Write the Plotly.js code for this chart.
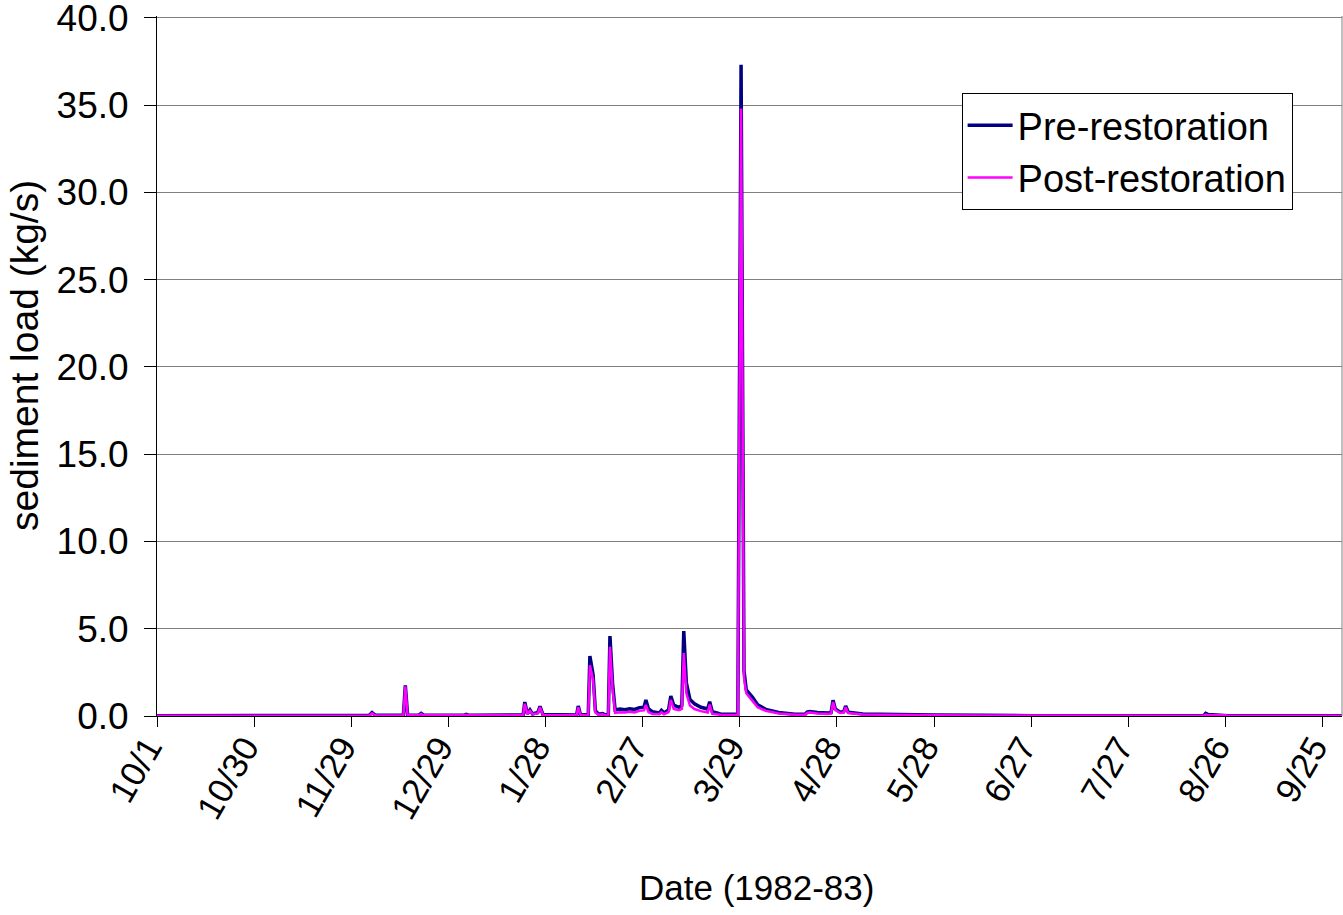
<!DOCTYPE html>
<html>
<head>
<meta charset="utf-8">
<script src="https://cdn.plot.ly/plotly-3.0.1.min.js"></script>
<style>html,body{margin:0;padding:0;background:#fff}#chart{width:1343px;height:915px}</style>
</head>
<body>
<div id="chart"></div>
<script>
// x-axis tick labels (one every 30 records of the daily series)
const tickLabels = ['10/1','10/30','11/29','12/29','1/28','2/27','3/29','4/28','5/28','6/27','7/27','8/26','9/25'];
const tickIndex  = [0,30,60,90,120,150,180,210,240,270,300,330,360];
const yTicks = [0,5,10,15,20,25,30,35,40];

// record index (days from 10/1) of the points
const dayIndex = [0,58.5,59.3,60,65.5,66.4,67.5,76.1,76.7,77.4,81,81.6,82.4,95,95.5,96.2,
  113.1,113.6,114.4,115.2,116,117.6,118.3,119.2,129.6,130.1,130.8,133.2,133.7,134.7,135.4,136.4,
  137.6,138.5,139.4,139.9,140.7,141.5,143,144.5,146,147.5,149,150.4,151,151.8,153,155.2,155.8,
  156.6,158,158.7,159.6,161.2,162.1,162.7,163.5,164.6,166,168,170.1,170.7,171.5,174,179.4,180.4,
  181.3,182,183,184,185.5,188,192,197,200.2,200.8,201.6,204,207.4,208.2,208.8,209.5,211,212.1,
  212.7,213.5,218,225,240,255,270,323.3,323.9,324.6,330,330.8,366];

// sediment load (kg/s)
const preRestoration = [0.02,0.02,0.06,0.02,0.03,0.2,0.04,0.04,1.75,0.05,0.06,0.15,0.05,0.05,0.09,0.05,
  0.06,0.8,0.12,0.35,0.12,0.2,0.55,0.08,0.06,0.57,0.06,0.08,3.44,2.35,0.3,0.1,
  0.14,0.07,0.08,4.58,1.87,0.35,0.4,0.36,0.42,0.38,0.48,0.5,0.92,0.4,0.25,0.18,0.32,
  0.18,0.35,1.15,0.62,0.5,0.6,4.87,1.9,0.95,0.7,0.5,0.4,0.82,0.25,0.12,0.1,37.3,
  2.6,1.5,1.3,1.05,0.65,0.38,0.2,0.1,0.1,0.22,0.26,0.2,0.17,0.2,0.9,0.4,0.22,0.25,
  0.57,0.22,0.11,0.08,0.06,0.04,0.02,0.02,0.15,0.09,0.07,0.02,0.02];

const postRestoration = [0.01,0.01,0.04,0.01,0.02,0.15,0.03,0.03,1.7,0.04,0.05,0.12,0.04,0.04,0.07,0.04,
  0.05,0.7,0.1,0.3,0.1,0.15,0.5,0.06,0.05,0.5,0.05,0.06,2.9,2.06,0.2,0.07,
  0.1,0.05,0.06,3.97,1.55,0.18,0.22,0.2,0.24,0.2,0.3,0.32,0.63,0.22,0.12,0.1,0.22,
  0.1,0.22,0.92,0.4,0.33,0.4,3.6,1.3,0.6,0.4,0.28,0.2,0.65,0.12,0.07,0.06,34.8,
  2.2,1.3,1.05,0.85,0.5,0.3,0.14,0.07,0.07,0.17,0.2,0.14,0.12,0.15,0.8,0.35,0.17,0.2,
  0.5,0.17,0.08,0.06,0.04,0.03,0.02,0.02,0.08,0.04,0.04,0.02,0.02];

const FONT = 'Liberation Sans, Arial, sans-serif';

const traces = [
  {x: dayIndex, y: preRestoration, type: 'scatter', mode: 'lines', name: 'Pre-restoration',
   line: {color: '#000080', width: 3.5}},
  {x: dayIndex, y: postRestoration, type: 'scatter', mode: 'lines', name: 'Post-restoration',
   line: {color: '#FF00FF', width: 2.5}}
];

const layout = {
  width: 1343, height: 915,
  paper_bgcolor: '#fff', plot_bgcolor: '#fff',
  font: {family: FONT, color: '#000', size: 36},
  margin: {l: 157, r: 1, t: 16, b: 199, autoexpand: false},
  showlegend: true,
  legend: {x: 0.679, y: 0.89, xanchor: 'left', yanchor: 'top',
    bgcolor: '#fff', bordercolor: '#000', borderwidth: 1, itemwidth: 45,
    font: {family: FONT, size: 38, color: '#000'}},
  xaxis: {
    range: [0, 366], tickmode: 'array', tickvals: tickIndex, ticktext: tickLabels,
    tickangle: -60, ticks: 'outside', ticklen: 10, tickcolor: '#000', tickwidth: 1,
    ticklabeloverflow: 'allow', ticklabelstandoff: -14, ticklabelshift: -9,
    showline: true, linecolor: '#000', linewidth: 1, showgrid: false, zeroline: false,
    tickfont: {family: FONT, size: 35}
  },
  yaxis: {
    range: [0, 40.1], tickmode: 'array', tickvals: yTicks, tickformat: '.1f',
    ticks: 'outside', ticklen: 12, tickcolor: '#000', tickwidth: 1, ticklabelstandoff: 8,
    ticklabeloverflow: 'allow',
    showline: true, linecolor: '#000', linewidth: 1,
    showgrid: true, gridcolor: '#808080', gridwidth: 1, zeroline: false,
    tickfont: {family: FONT, size: 37}
  },
  annotations: [
    {text: 'Date (1982-83)', xref: 'paper', yref: 'paper', x: 0.506, y: 0,
     xanchor: 'center', yanchor: 'top', yshift: -150, showarrow: false,
     font: {family: FONT, size: 35, color: '#000'}},
    {text: 'sediment load (kg/s)', xref: 'paper', yref: 'paper', x: 0, y: 0.5,
     xanchor: 'center', yanchor: 'middle', xshift: -133, yshift: 10, textangle: -90,
     borderpad: 0, showarrow: false, font: {family: FONT, size: 39, color: '#000'}}
  ],
  shapes: [
    {type: 'line', xref: 'paper', yref: 'paper', x0: 1, x1: 1, y0: 0, y1: 1,
     line: {color: '#808080', width: 1}}
  ]
};

Plotly.newPlot('chart', traces, layout, {displayModeBar: false, staticPlot: true});
</script>
</body>
</html>
